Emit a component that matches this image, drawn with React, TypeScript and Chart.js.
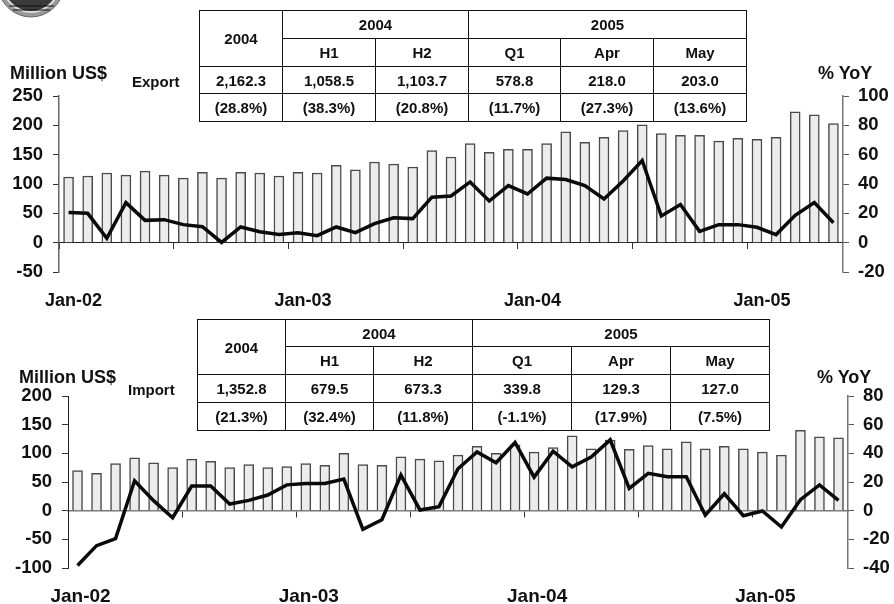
import React, { useEffect, useRef } from "react";
import { Chart, registerables } from "chart.js";

Chart.register(...registerables);

const months = ["Jan","Feb","Mar","Apr","May","Jun","Jul","Aug","Sep","Oct","Nov","Dec"];
const categories: string[] = [];
for (let y = 2; y <= 5; y++) {
  for (let m = 0; m < 12; m++) {
    if (y === 5 && m > 4) break;
    categories.push(`${months[m]}-0${y}`);
  }
}

const exportBars = [112,113.6,118.7,115,122,115,110,120,110,120,118.7,113.6,120,118.7,132,124,137.5,134,129,157,146,169,154,159,159,169,189,171,179.5,191,201,186,183,183,173,178,176,179.5,223,218,203];
const exportYoY = [20.5,20,3,27.3,15.2,15.7,12.3,10.9,0.2,10.7,7.5,5.5,6.8,4.8,10.7,6.8,13,17,16.4,31,31.8,41.4,28.4,38.9,33.2,44,43,38.9,29.8,42,56,18.2,26,7.7,12.3,12.3,10.5,5.5,18.6,27.3,13.6];
const importBars = [70,65,82,92,83.5,75,90,86,75,80.5,75,77,82,79,100,80.5,79,94,90,87,97,112,100,115,102,110,130.4,108,123,107,113.6,108,120,108,112,108,102,97,140,129,127];
const importYoY = [-38.3,-24.4,-19.5,20.9,7,-4.9,17.2,17.2,4.6,7.2,10.9,18,19,19,22,-13,-6.3,24.8,0.5,2.8,29.2,41,33.4,47.6,23.4,41.5,30.6,37.4,49.4,15.5,26,23.7,23.7,-3.2,11.8,-3.5,-0.2,-11.4,7.7,18,7.2];

const exportTable = { annual: "2,162.3", annualYoY: "(28.8%)", values: ["1,058.5","1,103.7","578.8","218.0","203.0"], yoy: ["(38.3%)","(20.8%)","(11.7%)","(27.3%)","(13.6%)"] };
const importTable = { annual: "1,352.8", annualYoY: "(21.3%)", values: ["679.5","673.3","339.8","129.3","127.0"], yoy: ["(32.4%)","(11.8%)","(-1.1%)","(17.9%)","(7.5%)"] };
const periods = ["H1","H2","Q1","Apr","May"];

const FONT = "'Liberation Sans', Arial, sans-serif";

type PanelProps = {
  top: number; height: number; left: number; right: number; areaTop: number; areaBottom: number;
  bars: number[]; line: number[];
  yMin: number; yMax: number; rMin: number; rMax: number;
  labelOffset: number; xFont: number; xPad: number; yPad: number; rPad: number;
  leftColor: string; leftWidth: number; zeroColor: string; zeroWidth: number;
};

function Panel(p: PanelProps) {
  const ref = useRef<HTMLCanvasElement>(null);
  useEffect(() => {
    const fix = (w: number) => (s: any) => { s.width = w; };
    const chart = new Chart(ref.current!, {
      type: "bar",
      data: {
        labels: categories,
        datasets: [
          { type: "line", data: p.line, yAxisID: "y1", xAxisID: "x", borderColor: "#0a0a0a", borderWidth: 3.5, pointRadius: 0, tension: 0, order: 0, clip: false },
          { type: "bar", data: p.bars, yAxisID: "y", xAxisID: "x", backgroundColor: "#ececec", borderColor: "#4a4a4a", borderWidth: { left: 1.5, right: 1.5, top: 1.5, bottom: 0 }, barThickness: 10, order: 1 },
        ],
      } as any,
      options: {
        animation: false,
        responsive: false,
        layout: { padding: { top: p.areaTop, bottom: 0, left: 0, right: 0 } },
        plugins: { legend: { display: false }, tooltip: { enabled: false } },
        scales: {
          x: {
            position: "bottom",
            offset: true,
            border: { display: false },
            grid: { display: false },
            afterFit: (s: any) => { s.height = p.height - p.areaBottom; },
            ticks: {
              autoSkip: false, maxRotation: 0, minRotation: 0,
              padding: p.xPad,
              labelOffset: p.labelOffset,
              color: "#111",
              font: { family: FONT, weight: "bold", size: p.xFont },
              callback: (_v: any, i: number) => (i % 12 === 0 ? categories[i] : ""),
            },
          },
          x0: {
            type: "category",
            position: { y: 0 },
            offset: true,
            border: { display: true, color: p.zeroColor, width: p.zeroWidth },
            grid: {
              offset: true, drawOnChartArea: false, drawTicks: true, tickLength: 6,
              tickColor: (c: any) => (c.index % 6 === 0 ? "#333" : "rgba(0,0,0,0)"),
              color: "rgba(0,0,0,0)",
            },
            ticks: { display: false, autoSkip: false },
          },
          y: {
            position: "left", min: p.yMin, max: p.yMax,
            afterFit: fix(p.left),
            border: { display: true, color: p.leftColor, width: p.leftWidth },
            grid: { drawOnChartArea: false, tickLength: 6, tickColor: "#333" },
            ticks: { stepSize: 50, padding: p.yPad, color: "#111", font: { family: FONT, weight: "bold", size: 18.5 } },
          },
          y1: {
            position: "right", min: p.rMin, max: p.rMax,
            afterFit: fix(p.right),
            border: { display: true, color: "#777", width: 1.5 },
            grid: { drawOnChartArea: false, tickLength: 6, tickColor: "#555" },
            ticks: { stepSize: 20, padding: p.rPad, color: "#111", font: { family: FONT, weight: "bold", size: 18.5 } },
          },
        },
      } as any,
    });
    return () => chart.destroy();
  }, []);
  return (
    <canvas
      ref={ref}
      width={894}
      height={p.height}
      style={{ position: "absolute", left: 0, top: p.top, width: 894, height: p.height, display: "block" }}
    />
  );
}

type TableData = typeof exportTable;
function Grid(props: { x: number[]; y: number[]; d: TableData }) {
  const { x, y, d } = props;
  const cell = (l: number, t: number, r: number, b: number, text: string, key: string) => (
    <div
      key={key}
      style={{
        position: "absolute", left: x[l], top: y[t], width: x[r] - x[l] + 1, height: y[b] - y[t] + 1,
        boxSizing: "border-box", border: "1px solid #111",
        display: "flex", alignItems: "center", justifyContent: "center",
        font: `bold 15px ${FONT}`, color: "#111", background: "transparent",
      }}
    >
      {text}
    </div>
  );
  return (
    <>
      {cell(0, 0, 1, 2, "2004", "a")}
      {cell(1, 0, 3, 1, "2004", "b")}
      {cell(3, 0, 6, 1, "2005", "c")}
      {periods.map((t, i) => cell(i + 1, 1, i + 2, 2, t, "p" + i))}
      {cell(0, 2, 1, 3, d.annual, "v")}
      {d.values.map((t, i) => cell(i + 1, 2, i + 2, 3, t, "v" + i))}
      {cell(0, 3, 1, 4, d.annualYoY, "y")}
      {d.yoy.map((t, i) => cell(i + 1, 3, i + 2, 4, t, "y" + i))}
    </>
  );
}

function Label(props: { x: number; y: number; size: number; text: string }) {
  return (
    <div style={{ position: "absolute", left: props.x, top: props.y, font: `bold ${props.size}px ${FONT}`, lineHeight: "1", color: "#111", whiteSpace: "nowrap" }}>
      {props.text}
    </div>
  );
}

export default function App() {
  return (
    <div style={{ position: "absolute", left: 0, top: 0, width: 894, height: 604, overflow: "hidden", background: "#fff" }}>
      <Panel top={0} height={312} left={59} right={51} areaTop={96} areaBottom={272} bars={exportBars} line={exportYoY} yMin={-50} yMax={250} rMin={-20} rMax={100} labelOffset={5} xFont={18} xPad={10} yPad={10} rPad={9} leftColor="#666" leftWidth={1.5} zeroColor="#222" zeroWidth={1} />
      <Panel top={310} height={294} left={68} right={46} areaTop={86} areaBottom={258} bars={importBars} line={importYoY} yMin={-100} yMax={200} rMin={-40} rMax={80} labelOffset={3} xFont={19} xPad={9} yPad={10} rPad={9} leftColor="#222" leftWidth={1} zeroColor="#777" zeroWidth={1.5} />
      <svg width={70} height={20} style={{ position: "absolute", left: 0, top: 0 }}>
        <circle cx={31} cy={-16} r={33} fill="#999" stroke="#666" strokeWidth={1} />
        <circle cx={31} cy={-16} r={28} fill="#3a3a3a" stroke="#ddd" strokeWidth={2} />
        <path d="M9 6 H54 M13 10 H50" stroke="#111" strokeWidth={1} />
      </svg>
      <Grid x={[199,282,375,468,560,653,746]} y={[10,38,66,93,121]} d={exportTable} />
      <Grid x={[197,285,373,472,571,670,769]} y={[319,346,374,402,430]} d={importTable} />
      <Label x={10} y={64} size={18} text="Million US$" />
      <Label x={132} y={74} size={15} text="Export" />
      <Label x={818} y={64} size={18} text="% YoY" />
      <Label x={19} y={368} size={18} text="Million US$" />
      <Label x={128} y={382} size={15} text="Import" />
      <Label x={817} y={368} size={18} text="% YoY" />
    </div>
  );
}
